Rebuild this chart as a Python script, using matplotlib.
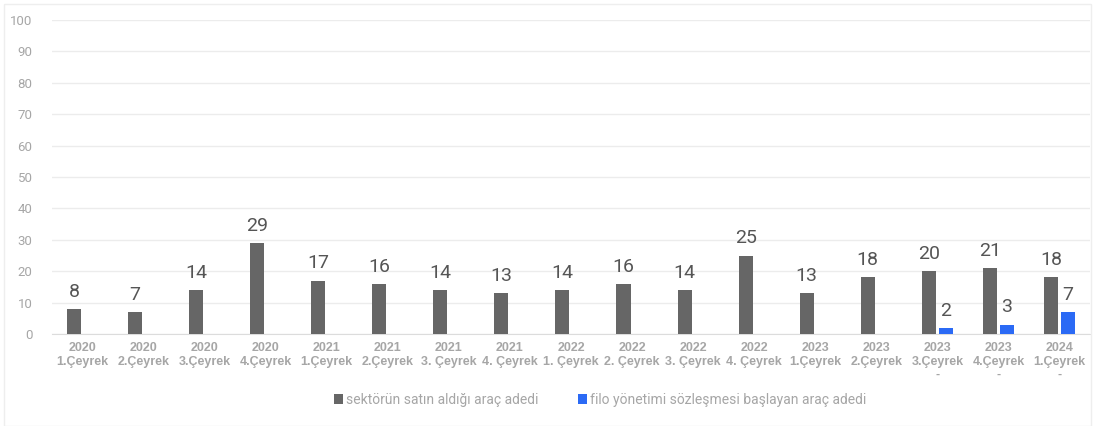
import numpy as np
import matplotlib.pyplot as plt
from matplotlib.patches import Rectangle

plt.rcParams['font.family'] = ['Roboto', 'DejaVu Sans']

# quarter labels (year / quarter)
quarters = [
    "2020\n1.Çeyrek", "2020\n2.Çeyrek", "2020\n3.Çeyrek", "2020\n4.Çeyrek",
    "2021\n1.Çeyrek", "2021\n2.Çeyrek", "2021\n3. Çeyrek", "2021\n4. Çeyrek",
    "2022\n1. Çeyrek", "2022\n2. Çeyrek", "2022\n3. Çeyrek", "2022\n4. Çeyrek",
    "2023\n1.Çeyrek", "2023\n2.Çeyrek", "2023\n3.Çeyrek\n-", "2023\n4.Çeyrek\n-",
    "2024\n1.Çeyrek\n-",
]
sektor = [8, 7, 14, 29, 17, 16, 14, 13, 14, 16, 14, 25, 13, 18, 20, 21, 18]
filo = [None] * 14 + [2, 3, 7]

gray = "#666666"
blue = "#2b6af5"

fig = plt.figure(figsize=(10.95, 4.26), dpi=100)
ax = fig.add_axes([52 / 1095, 92 / 426, 1038 / 1095, 314 / 426])

x = np.arange(len(quarters))
w = 0.23
off = 0.14
filo_vals = np.array([np.nan if v is None else v for v in filo], dtype=float)

b1 = ax.bar(x - off, sektor, w, color=gray, label="sektörün satın aldığı araç adedi", zorder=3)
b2 = ax.bar(x + off, filo_vals, w, color=blue, label="filo yönetimi sözleşmesi başlayan araç adedi", zorder=3)

for xi, v in zip(x, sektor):
    ax.text(xi - off, v + 2.6, str(v), ha="center", va="bottom", fontsize=14, color="#555555")
for xi, v in zip(x, filo_vals):
    if not np.isnan(v):
        ax.text(xi + off, v + 2.6, str(int(v)), ha="center", va="bottom", fontsize=14, color="#555555")

ax.set_xlim(-0.5, len(quarters) - 0.5)
ax.set_ylim(0, 100)
ax.set_yticks(range(0, 101, 10))
ax.set_xticks(x)
ax.set_xticklabels(quarters, fontsize=9, fontweight="bold", color="#a6a6a6", linespacing=1.15,
                   family=["Liberation Sans", "DejaVu Sans"])
ax.tick_params(axis="y", labelsize=9.5, colors="#a6a6a6", length=0, pad=14)
ax.tick_params(axis="x", length=0, pad=6)
ax.grid(axis="y", color="#ececec", linewidth=1, zorder=0)
for s in ["top", "right", "left"]:
    ax.spines[s].set_visible(False)
ax.spines["bottom"].set_color("#dcdcdc")

leg = fig.legend(handles=[b1, b2], loc="center", bbox_to_anchor=(600 / 1095, 1 - 400 / 426),
                 ncol=2, frameon=False, fontsize=10, handlelength=0.7, handleheight=0.7,
                 handletextpad=0.2, columnspacing=2.8)
for t in leg.get_texts():
    t.set_color("#a6a6a6")

# faint outer frame
fig.patches.append(Rectangle((4 / 1095, 0), 1 - 8 / 1095, 1 - 4 / 426, transform=fig.transFigure,
                             fill=False, edgecolor="#eeeeee", linewidth=1))

plt.savefig("out.png", dpi=100)
